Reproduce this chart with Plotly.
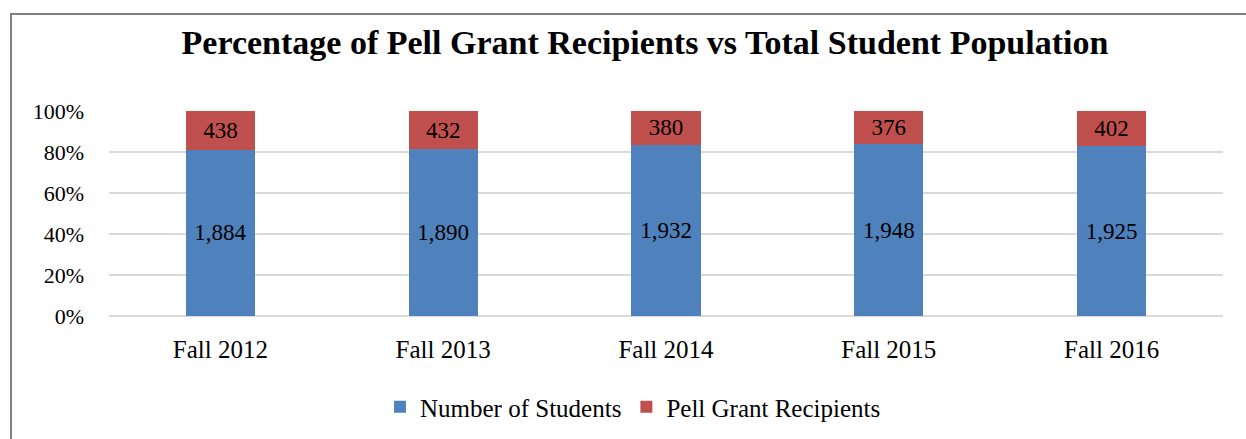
import plotly.graph_objects as go

# Fall enrollment data
terms = ["Fall 2012", "Fall 2013", "Fall 2014", "Fall 2015", "Fall 2016"]
students = [1884, 1890, 1932, 1948, 1925]
pell_recipients = [438, 432, 380, 376, 402]
y_ticks = [0, 20, 40, 60, 80, 100]
y_tick_labels = ["0%", "20%", "40%", "60%", "80%", "100%"]

W, H = 1246, 439
ML, MR, MT, MB = 109, 23, 111, 123
plot_w = W - ML - MR
plot_h = H - MT - MB

FONT = "Liberation Serif"
BLUE = "#4F81BD"
RED = "#C0504D"

fig = go.Figure()
for name, vals, color in [
    ("Number of Students", students, BLUE),
    ("Pell Grant Recipients", pell_recipients, RED),
]:
    fig.add_trace(go.Bar(
        name=name,
        x=terms,
        y=vals,
        marker=dict(color=color, line=dict(width=0)),
        text=[f"{v:,}" for v in vals],
        textposition="inside",
        insidetextanchor="middle",
        textfont=dict(family=FONT, size=23, color="black"),
        textangle=0,
    ))


def px_x(px):
    return (px - ML) / plot_w


def px_y(py):
    return (H - MB - py) / plot_h


# Chart-area frame (left and top edges)
frame_path = (
    f"M {px_x(11)} {px_y(H + 5)} L {px_x(11)} {px_y(14)} L {px_x(W + 5)} {px_y(14)}"
)

fig.update_layout(
    width=W,
    height=H,
    margin=dict(l=ML, r=MR, t=MT, b=MB),
    paper_bgcolor="white",
    plot_bgcolor="white",
    barmode="stack",
    barnorm="percent",
    bargap=0.69,
    font=dict(family=FONT, size=22, color="black"),
    title=dict(
        text="<b>Percentage of Pell Grant Recipients vs Total Student Population</b>",
        x=645 / W,
        xanchor="center",
        y=1 - 42 / H,
        yanchor="middle",
        font=dict(family=FONT, size=34, color="black"),
    ),
    xaxis=dict(
        showgrid=False,
        showline=False,
        ticks="",
        automargin=False,
        ticklabelstandoff=16,
        tickfont=dict(family=FONT, size=25, color="black"),
    ),
    yaxis=dict(
        range=[0, 100],
        tickvals=y_ticks,
        ticktext=y_tick_labels,
        showgrid=True,
        gridcolor="#D9D9D9",
        gridwidth=2,
        zeroline=True,
        zerolinecolor="#D9D9D9",
        zerolinewidth=2,
        showline=False,
        ticks="",
        automargin=False,
        ticklabelstandoff=24,
        tickfont=dict(family=FONT, size=22, color="black"),
    ),
    legend=dict(
        orientation="h",
        x=633 / W,
        xref="container",
        xanchor="center",
        y=1 - 407 / H,
        yref="container",
        yanchor="middle",
        font=dict(family=FONT, size=25, color="black"),
        itemwidth=30,
        traceorder="normal",
    ),
    uniformtext=dict(minsize=20, mode="show"),
    shapes=[dict(
        type="path",
        path=frame_path,
        xref="paper",
        yref="paper",
        line=dict(color="#808080", width=2),
        layer="above",
    )],
)

fig.write_html("out.html")
